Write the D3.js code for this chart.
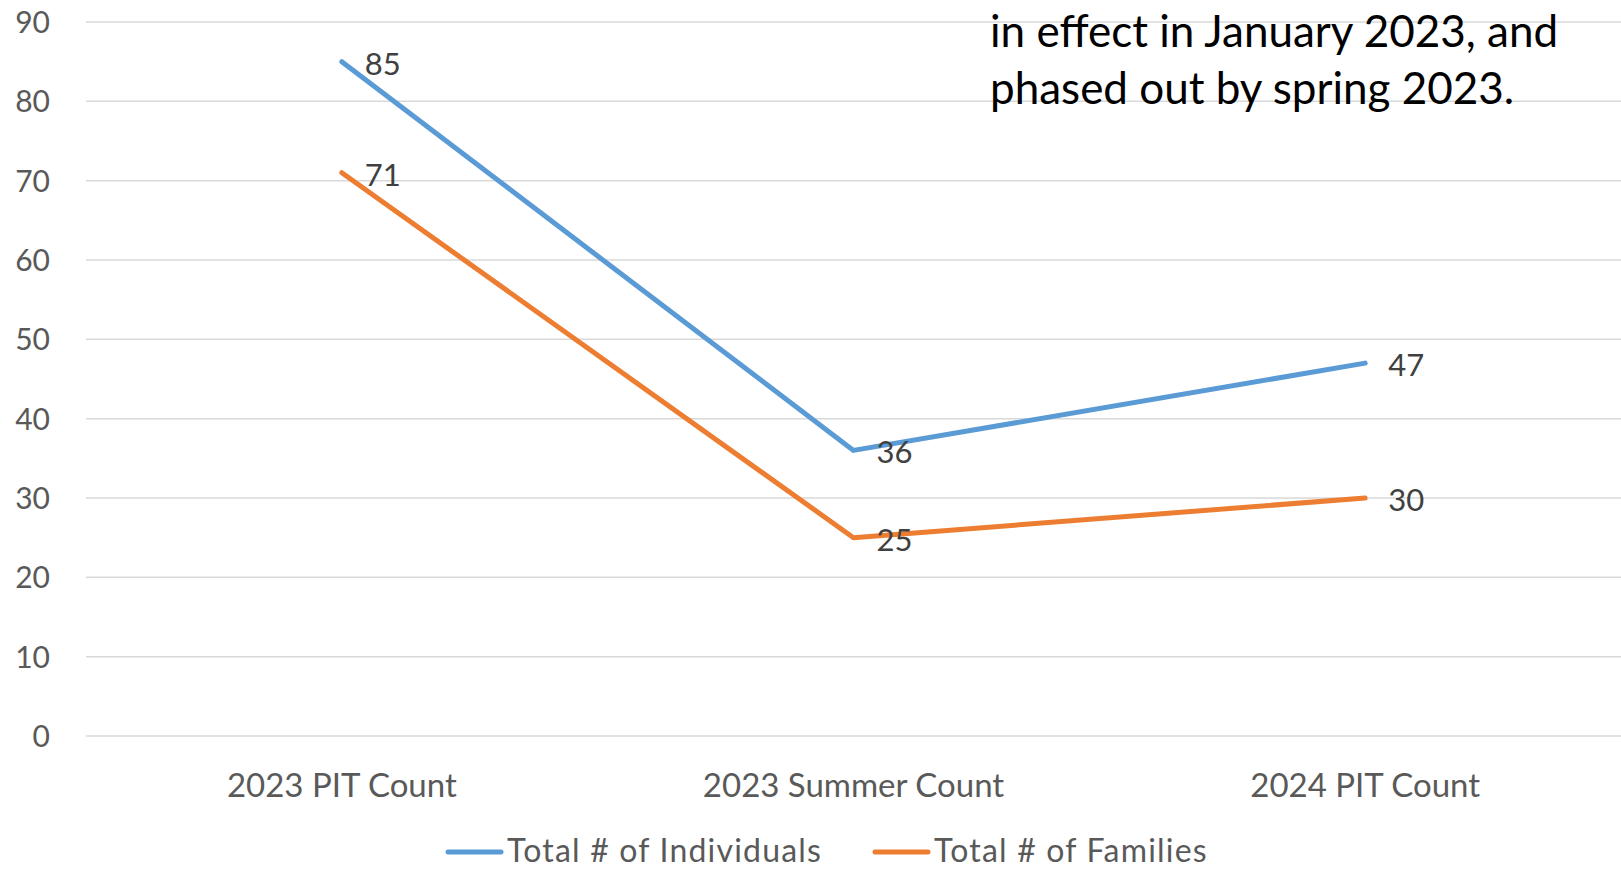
<!DOCTYPE html>
<html><head><meta charset="utf-8">
<script src="https://cdn.jsdelivr.net/npm/d3@7"></script>
<style>
html,body{margin:0;padding:0;background:#fff;}
svg{display:block;font-family:Lato,"Open Sans",sans-serif;}
</style></head>
<body>
<svg id="c" width="1621" height="869"></svg>
<script>
const categories = ["2023 PIT Count", "2023 Summer Count", "2024 PIT Count"];
const individuals = [85, 36, 47];
const families = [71, 25, 30];
const seriesNames = ["Total # of Individuals", "Total # of Families"];
const yTicks = [0, 10, 20, 30, 40, 50, 60, 70, 80, 90];
const noteLines = ["in effect in January 2023, and", "phased out by spring 2023."];

(function () {
const colors = ["#5b9bd5", "#ed7d31"];
const series = [
  {name: seriesNames[0], values: individuals, color: colors[0]},
  {name: seriesNames[1], values: families, color: colors[1]}
];

const svg = d3.select("#c");
const pLeft = 86, pRight = 1621, pTop = 22, pBottom = 736;

const x = d3.scaleBand().domain(categories).range([pLeft, pRight]);
const y = d3.scaleLinear().domain([0, 90]).range([pBottom, pTop]);

// gridlines
svg.append("g").selectAll("line").data(yTicks).join("line")
  .attr("x1", pLeft).attr("x2", pRight)
  .attr("y1", d => y(d)).attr("y2", d => y(d))
  .attr("stroke", "#d9d9d9").attr("stroke-width", 1.5);

// y axis labels
const yAxis = d3.axisLeft(y).tickValues(yTicks).tickSize(0).tickPadding(0);
const yg = svg.append("g").attr("transform", `translate(50,0)`).call(yAxis);
yg.select(".domain").remove();
yg.selectAll("text").attr("fill", "#595959").style("font-size", "30px")
  .style("font-family", "Lato").attr("dy", "0.35em");

// x axis labels
const xAxis = d3.axisBottom(x).tickSize(0).tickPadding(0);
const xg = svg.append("g").attr("transform", `translate(0,797)`).call(xAxis);
xg.select(".domain").remove();
xg.selectAll("text").attr("fill", "#595959").style("font-size", "33px")
  .style("font-family", "Lato").attr("dy", "0");

// annotation
svg.append("g").selectAll("text").data(noteLines).join("text")
  .attr("x", 990).attr("y", (d, i) => 47 + i * 57)
  .attr("fill", "#000").style("font-size", "44px").text(d => d);

// lines
const line = d3.line()
  .x((d, i) => x(categories[i]) + x.bandwidth() / 2)
  .y(d => y(d));

svg.append("g").selectAll("path").data(series).join("path")
  .attr("d", d => line(d.values))
  .attr("fill", "none").attr("stroke", d => d.color)
  .attr("stroke-width", 5).attr("stroke-linecap", "round").attr("stroke-linejoin", "round");

// data labels
series.forEach(s => {
  svg.append("g").selectAll("text").data(s.values).join("text")
    .attr("x", (d, i) => x(categories[i]) + x.bandwidth() / 2 + 23)
    .attr("y", d => y(d) + 2)
    .attr("dy", "0.35em")
    .attr("fill", "#404040").style("font-size", "31px")
    .text(d => d);
});

// legend
const legendItems = [
  {s: series[0], lx: 448},
  {s: series[1], lx: 875}
];
const lg = svg.append("g");
legendItems.forEach(it => {
  lg.append("line").attr("x1", it.lx).attr("x2", it.lx + 53)
    .attr("y1", 852).attr("y2", 852)
    .attr("stroke", it.s.color).attr("stroke-width", 5).attr("stroke-linecap", "round");
  lg.append("text").attr("x", it.lx + 59).attr("y", 862)
    .attr("fill", "#595959").style("font-size", "32px").style("letter-spacing", "1.2px")
    .text(it.s.name);
});
})();
</script>
</body></html>
